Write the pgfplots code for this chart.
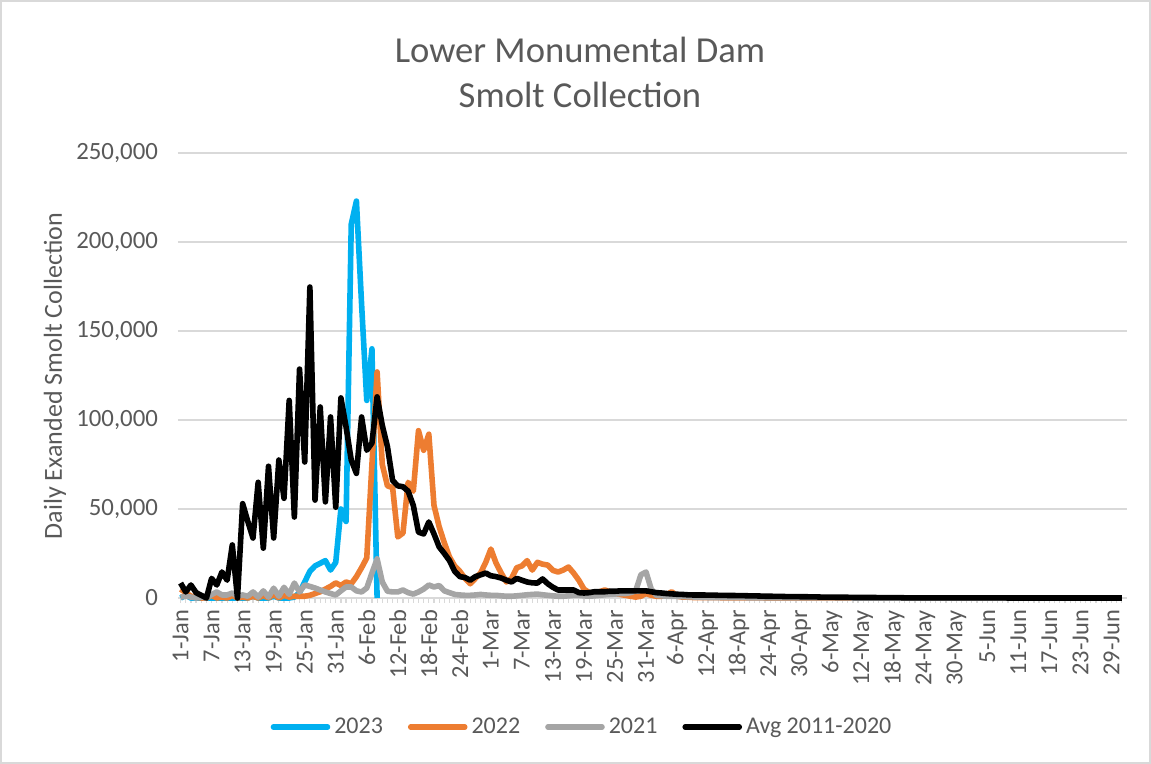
\documentclass[border=0pt]{standalone}
\usepackage{pgfplots}
\pgfplotsset{compat=1.18}
\usepackage{pgfplotstable}
\usepackage{fontspec}
\setmainfont{Carlito}
\definecolor{c23}{HTML}{00B0F0}
\definecolor{c22}{HTML}{ED7D31}
\definecolor{c21}{HTML}{A5A5A5}
\definecolor{txt}{HTML}{595959}
\definecolor{grd}{HTML}{D9D9D9}

\pgfplotstableread{
d b23 o22 g21 avg
1 0 5000 500 8400
2 1500 3000 1000 3400
3 0 1000 500 7300
4 0 500 0 3000
5 0 0 500 1500
6 0 0 0 0
7 0 1500 2000 11000
8 0 0 3400 7300
9 0 500 1700 14600
10 0 0 1700 10000
11 0 1500 2800 29800
12 0 0 1000 0
13 0 500 1700 53000
14 0 0 1000 43000
15 1000 1000 3400 33700
16 0 0 500 65000
17 0 1500 4000 28000
18 0 0 500 74000
19 1000 2000 5500 33700
20 0 0 1000 77500
21 0 1500 6000 56000
22 0 500 2000 111000
23 500 1000 8400 45500
24 3000 1000 3400 128600
25 9000 1000 7300 76400
26 15000 1500 6500 174700
27 18000 2500 5600 55000
28 19500 3500 4500 107300
29 21000 5000 3400 54000
30 15700 6500 2500 101700
31 20000 8500 1700 51000
32 50000 7000 4000 112400
33 43000 9000 6200 96000
34 210000 8000 6200 77500
35 223000 12000 4000 70000
36 165000 17000 3400 101700
37 111000 22500 5600 83000
38 140000 75000 14000 87000
39 0 127000 22000 113000
40 nan 75000 9000 97000
41 nan 63000 3800 85000
42 nan 62000 3400 66000
43 nan 34300 3400 63000
44 nan 36500 4500 62500
45 nan 65000 3000 60000
46 nan 60000 2200 52000
47 nan 94000 3400 37000
48 nan 83000 5000 36000
49 nan 92000 7300 42700
50 nan 52000 6200 36000
51 nan 40000 7000 28700
52 nan 31000 4000 25000
53 nan 23000 3000 21000
54 nan 18000 2000 15000
55 nan 15000 1700 12000
56 nan 11000 1500 11500
57 nan 8000 1500 10000
58 nan 11000 1700 12000
59 nan 14000 2000 13000
60 nan 20000 1700 14000
61 nan 27500 1500 12500
62 nan 19600 1500 12000
63 nan 14000 1200 11200
64 nan 9000 1000 10000
65 nan 11000 1000 9000
66 nan 17000 1200 11000
67 nan 18000 1500 10000
68 nan 21000 1800 9000
69 nan 15700 2000 8500
70 nan 20000 2200 8400
71 nan 19000 1800 10700
72 nan 18500 1500 8000
73 nan 15500 1200 6000
74 nan 14600 1000 4500
75 nan 15700 1000 4500
76 nan 17400 1200 4500
77 nan 14000 1500 4500
78 nan 10000 1500 3000
79 nan 5000 1200 2800
80 nan 3000 1000 3000
81 nan 3000 1200 3500
82 nan 3500 1500 3500
83 nan 4500 1800 3500
84 nan 3500 2000 3800
85 nan 2500 2200 3800
86 nan 2000 2500 4000
87 nan 1500 2500 4000
88 nan 1000 3000 4000
89 nan 500 4000 4000
90 nan 1000 13000 4000
91 nan 2500 14600 4000
92 nan 1500 5000 3500
93 nan 1000 1500 3000
94 nan 1000 1200 2800
95 nan 2000 1000 2500
96 nan 3500 1000 2300
97 nan 1000 900 2100
98 nan 500 800 2000
99 nan 500 700 1800
100 nan 300 600 1700
101 nan 200 500 1700
102 nan 200 400 1700
103 nan 200 300 1600
104 nan 200 300 1600
105 nan 200 200 1500
106 nan 100 200 1500
107 nan 100 200 1400
108 nan 100 200 1400
109 nan 100 200 1300
110 nan 100 200 1300
111 nan 100 100 1200
112 nan 100 100 1200
113 nan 100 100 1100
114 nan 0 100 1000
115 nan 0 100 1000
116 nan 0 100 900
117 nan 0 100 900
118 nan 0 100 800
119 nan 0 100 800
120 nan 0 100 800
121 nan 0 100 700
122 nan 0 100 700
123 nan 0 100 600
124 nan 0 100 600
125 nan 0 100 500
126 nan 0 100 500
127 nan 0 100 500
128 nan 0 100 400
129 nan 0 100 400
130 nan 0 100 400
131 nan 0 0 300
132 nan 0 0 300
133 nan 0 0 300
134 nan 0 0 300
135 nan 0 0 300
136 nan 0 0 200
137 nan 0 0 200
138 nan 0 0 200
139 nan 0 0 200
140 nan 0 0 200
141 nan 0 0 100
142 nan 0 0 100
143 nan 0 0 100
144 nan 0 0 100
145 nan 0 0 100
146 nan 0 0 100
147 nan 0 0 100
148 nan 0 0 100
149 nan 0 0 100
150 nan 0 0 100
151 nan 0 0 100
152 nan 0 0 100
153 nan 0 0 100
154 nan 0 0 100
155 nan 0 0 100
156 nan 0 0 100
157 nan 0 0 100
158 nan 0 0 100
159 nan 0 0 100
160 nan 0 0 100
161 nan 0 0 0
162 nan 0 0 0
163 nan 0 0 0
164 nan 0 0 0
165 nan 0 0 0
166 nan 0 0 0
167 nan 0 0 0
168 nan 0 0 0
169 nan 0 0 0
170 nan 0 0 0
171 nan 0 0 0
172 nan 0 0 0
173 nan 0 0 0
174 nan 0 0 0
175 nan 0 0 0
176 nan 0 0 0
177 nan 0 0 0
178 nan 0 0 0
179 nan 0 0 0
180 nan 0 0 0
181 nan 0 0 0
182 nan 0 0 0
183 nan 0 0 0
}\smolt

\begin{document}
\begin{tikzpicture}
\useasboundingbox (0pt,0pt) rectangle (575.5pt,382pt);
\draw[grd, line width=0.75pt] (0.4pt,0.4pt) rectangle (575.1pt,381.6pt);
\node[txt, font=\fontsize{18.3}{22}\selectfont, anchor=base] at (290pt,350.5pt) {Lower Monumental Dam};
\node[txt, font=\fontsize{18.3}{22}\selectfont, anchor=base] at (290pt,328pt) {Smolt Collection};
\node[txt, rotate=90, font=\fontsize{13}{15}\selectfont] at (27.5pt,194pt) {Daily Exanded Smolt Collection};
\begin{axis}[
  at={(89pt,83pt)}, anchor=south west,
  scale only axis, width=474.5pt, height=222.5pt,
  xmin=0.5, xmax=184, ymin=0, ymax=250000,
  clip=false,
  axis lines*=left,
  x axis line style={grd, line width=0.75pt, -},
  y axis line style={draw=none},
  ymajorgrids, grid style={grd, line width=0.75pt},
  ytick={0,50000,100000,150000,200000,250000},
  scaled y ticks=false,
  yticklabel={\pgfmathprintnumber[fixed,1000 sep={,},assume math mode=true]{\tick}},
  yticklabel style={txt, font=\fontsize{12.4}{14}\selectfont, anchor=east, xshift=-4pt},
  ytick style={draw=none},
  xtick={1,7,...,181},
  xticklabels={1-Jan,7-Jan,13-Jan,19-Jan,25-Jan,31-Jan,6-Feb,12-Feb,18-Feb,24-Feb,1-Mar,7-Mar,13-Mar,19-Mar,25-Mar,31-Mar,6-Apr,12-Apr,18-Apr,24-Apr,30-Apr,6-May,12-May,18-May,24-May,30-May,5-Jun,11-Jun,17-Jun,23-Jun,29-Jun},
  minor xtick={1,...,183},
  xtick style={grd, line width=0.6pt},
  minor tick length=2.5pt, major tick length=2.5pt,
  tick align=outside,
  xticklabel style={txt, font=\fontsize{12.2}{14}\selectfont, rotate=90, anchor=east},
  unbounded coords=jump,
  legend style={at={(0.4268,-0.29)}, anchor=center, draw=none, fill=none,
    legend columns=4, font=\fontsize{12}{14}\selectfont, text=txt,
    /tikz/every even column/.append style={column sep=10.5pt}},
  legend image code/.code={\draw[#1, line width=2.8pt, line cap=round] (0pt,0pt) -- (27pt,0pt);},
]
\addplot[c23, line width=2.8pt, line join=round, no markers] table[x=d,y=b23]{\smolt};
\addlegendentry{2023}
\addplot[c22, line width=2.8pt, line join=round, no markers] table[x=d,y=o22]{\smolt};
\addlegendentry{2022}
\addplot[c21, line width=2.8pt, line join=round, no markers] table[x=d,y=g21]{\smolt};
\addlegendentry{2021}
\addplot[black, line width=2.8pt, line join=round, no markers] table[x=d,y=avg]{\smolt};
\addlegendentry{Avg 2011-2020}
\end{axis}
\end{tikzpicture}
\end{document}
